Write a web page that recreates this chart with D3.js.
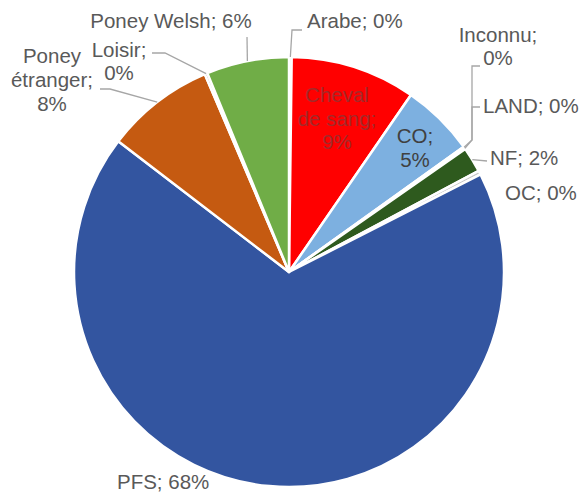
<!DOCTYPE html>
<html><head><meta charset="utf-8">
<script src="https://cdn.jsdelivr.net/npm/d3@7"></script>
<style>
html,body{margin:0;padding:0;background:#fff;}
svg{display:block;}
text{font-family:"Liberation Sans",Arial,sans-serif;font-size:20.5px;fill:#595959;}
</style></head>
<body><svg id="c" width="585" height="499"></svg>
<script>
const categories = ["Arabe","Cheval de sang","CO","Inconnu","LAND","NF","OC","PFS","Poney étranger","Poney Loisir","Poney Welsh"];
const values = [0.2, 9.4, 5.5, 0.1, 0.1, 1.9, 0.3, 67.9, 8.2, 0.2, 6.2];
const percentLabels = ["0%","9%","5%","0%","0%","2%","0%","68%","8%","0%","6%"];
const colors = ["#A5A5A5","#FF0000","#7DB0E0","#FFC000","#5B9BD5","#2E5A1E","#C8C8C8","#3355A0","#C55A11","#8C8C8C","#70AD47"];

// label layout (positions only)
const layout = {
  "Arabe":          {lines:["Arabe; 0%"], x:307, y:28, anchor:"start", leader:[[292,30],[302,30]]},
  "Cheval de sang": {lines:["Cheval","de sang;","9%"], x:337, y:102, dy:23.5, anchor:"middle", fill:"#A32A2A"},
  "CO":             {lines:["CO;","5%"], x:415, y:143, dy:24, anchor:"middle", fill:"#404040"},
  "Inconnu":        {lines:["Inconnu;","0%"], x:498, y:42, dy:23, anchor:"middle", leader:[[472,140],[472,66],[480,66]]},
  "LAND":           {lines:["LAND; 0%"], x:483, y:113, anchor:"start", leader:[[472,140],[472,107],[480,107]]},
  "NF":             {lines:["NF; 2%"], x:490, y:165, anchor:"start", leader:[[487,161]]},
  "OC":             {lines:["OC; 0%"], x:505, y:200, anchor:"start"},
  "PFS":            {lines:["PFS; 68%"], x:117, y:489, anchor:"start"},
  "Poney étranger": {lines:["Poney","étranger;","8%"], x:52, y:63, dy:24, anchor:"middle", leader:[[110,89],[100,89]]},
  "Poney Loisir":   {lines:["Loisir;","0%"], x:119, y:57, dy:23, anchor:"middle", leader:[[165,53],[152,53]]},
  "Poney Welsh":    {lines:["Poney Welsh; 6%"], x:171, y:28, anchor:"middle", leader:[[247,37]]}
};

const data = categories.map((c,i)=>({name:c, value:values[i], pct:percentLabels[i], color:colors[i]}));
const cx = 289, cy = 272, R = 215;
const svg = d3.select("#c");
const g = svg.append("g").attr("transform", `translate(${cx},${cy})`);

const pie = d3.pie().value(d=>d.value).sort(null).startAngle(0).endAngle(2*Math.PI);
const arc = d3.arc().innerRadius(0).outerRadius(R);
const arcs = pie(data);

g.selectAll("path.slice").data(arcs).join("path")
  .attr("class","slice")
  .attr("d", arc)
  .attr("fill", d=>d.data.color)
  .attr("stroke","#fff").attr("stroke-width",2.5).attr("stroke-linejoin","round");

// leader lines
const edgePoint = a => {
  const m = (a.startAngle + a.endAngle)/2;
  return [cx + R*Math.sin(m), cy - R*Math.cos(m)];
};
const line = d3.line();
arcs.forEach(a => {
  const L = layout[a.data.name];
  if (!L.leader) return;
  const pts = [edgePoint(a), ...L.leader];
  svg.append("path").attr("d", line(pts)).attr("fill","none")
    .attr("stroke","#A6A6A6").attr("stroke-width",1.3);
});

// labels
arcs.forEach(a => {
  const L = layout[a.data.name];
  const t = svg.append("text").attr("text-anchor", L.anchor)
    .attr("x", L.x).attr("y", L.y);
  if (L.fill) t.style("fill", L.fill);
  L.lines.forEach((ln,i) => {
    t.append("tspan").attr("x", L.x).attr("y", L.y + i*(L.dy||0)).text(ln);
  });
});
</script></body></html>
